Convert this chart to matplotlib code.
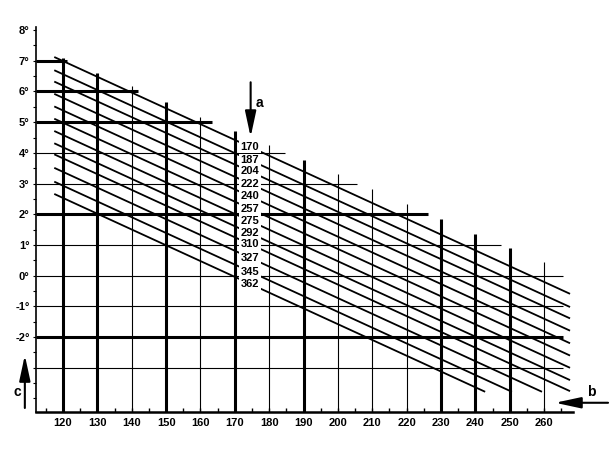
import matplotlib
matplotlib.use('Agg')
import matplotlib.pyplot as plt
import numpy as np

plt.rcParams['font.family'] = ['Liberation Sans', 'DejaVu Sans']

# vertical grid lines: x position, top (degrees), heavy or not
vline_x = [120, 130, 140, 150, 160, 170, 180, 190, 200, 210, 220, 230, 240, 250, 260]
vline_top = [7.09, 6.61, 6.19, 5.66, 5.18, 4.70, 4.25, 3.77, 3.31, 2.81, 2.33, 1.84, 1.37, 0.90, 0.44]
vline_heavy = [1, 1, 0, 1, 0, 1, 0, 1, 0, 0, 0, 1, 1, 1, 0]

# horizontal grid lines: degree, right end, heavy or not
hline_y = [7, 6, 5, 4, 3, 2, 1, 0, -1, -2, -3]
hline_end = [121.2, 141.8, 163.4, 184.6, 205.5, 226.3, 247.4, 265.5, 265.5, 265.5, 265.5]
hline_heavy = [1, 1, 1, 0, 0, 1, 0, 0, 0, 1, 0]

# diagonal curves: label, value at the left start
curve_labels = ['170', '187', '204', '222', '240', '257', '275', '292', '310', '327', '345', '362']
curve_start = [7.11, 6.68, 6.31, 5.91, 5.50, 5.10, 4.70, 4.30, 3.94, 3.50, 3.05, 2.65]
curve_x0 = 117.7
curve_x1 = 267.3
curve_slope = -0.0514
curve_floor = -3.77
label_x = 174.4

ytick_vals = [8, 7, 6, 5, 4, 3, 2, 1, 0, -1, -2]
ytick_text = ['8°', '7°', '6°', '5°', '4°', '3°', '2°', '1°', '0°', '-1°', '-2°']
xtick_vals = vline_x

fig = plt.figure(figsize=(6.15, 4.68), dpi=100)
ax = fig.add_axes([0.0585, 0.1197, 0.8732, 0.8226])
ax.set_xlim(112.14, 268.4)
ax.set_ylim(-4.44, 8.10)

for x, top, hv in zip(vline_x, vline_top, vline_heavy):
    ax.plot([x, x], [-4.44, top], color='black', lw=2.2 if hv else 0.8,
            solid_capstyle='butt', zorder=2)

for y, xe, hv in zip(hline_y, hline_end, hline_heavy):
    ax.plot([112.14, xe], [y, y], color='black', lw=2.2 if hv else 0.8,
            solid_capstyle='butt', zorder=2)

for lab, y0 in zip(curve_labels, curve_start):
    x_cut = curve_x0 + (y0 - curve_floor) / -curve_slope
    xe = min(curve_x1, x_cut)
    ax.plot([curve_x0, xe], [y0, y0 + curve_slope * (xe - curve_x0)],
            color='black', lw=1.3, zorder=3)
    ly = y0 + curve_slope * (label_x - curve_x0)
    ax.text(label_x, ly, lab, ha='center', va='center', fontsize=8,
            fontweight='bold', zorder=5,
            bbox=dict(facecolor='white', edgecolor='none', pad=1.0))

ax.spines['top'].set_visible(False)
ax.spines['right'].set_visible(False)
ax.spines['left'].set_linewidth(1.2)
ax.spines['bottom'].set_linewidth(1.8)

ax.set_xticks(xtick_vals)
ax.set_xticklabels([str(v) for v in xtick_vals], fontsize=8, fontweight='bold')
ax.set_xticks(np.arange(115, 270, 10), minor=True)
ax.tick_params(axis='x', which='both', direction='in', length=3, width=1, pad=4)

ax.set_yticks(ytick_vals)
ax.set_yticklabels(ytick_text, fontsize=8, fontweight='bold')
ax.set_yticks(np.arange(-4, 8.1, 0.5), minor=True)
ax.tick_params(axis='y', which='both', direction='out', length=2.5, width=0.8, pad=2)

arrow = dict(arrowstyle='-|>,head_length=1.3,head_width=0.28', color='black',
             lw=1.5, mutation_scale=12, shrinkA=0, shrinkB=0)
ax.annotate('', xy=(174.6, 4.52), xytext=(174.6, 6.3), arrowprops=arrow,
            annotation_clip=False)
ax.annotate('', xy=(108.9, -2.59), xytext=(108.9, -4.31), arrowprops=arrow,
            annotation_clip=False)
ax.annotate('', xy=(263.2, -4.14), xytext=(278.6, -4.14), arrowprops=arrow,
            annotation_clip=False)
ax.text(177.3, 5.61, 'a', fontsize=10, fontweight='bold', ha='center', va='center')
ax.text(106.6, -3.78, 'c', fontsize=10, fontweight='bold', ha='center', va='center',
        clip_on=False)
ax.text(273.8, -3.8, 'b', fontsize=10, fontweight='bold', ha='center', va='center',
        clip_on=False)

fig.savefig('out.png', dpi=100)
